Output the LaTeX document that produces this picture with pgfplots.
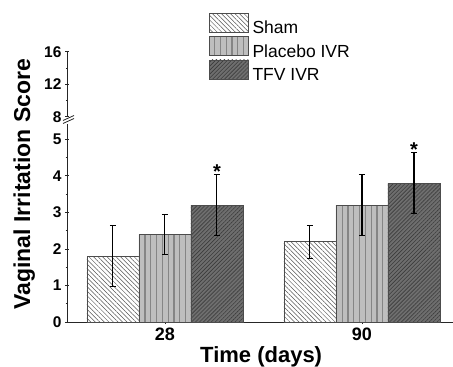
\documentclass[border=0pt]{standalone}
\usepackage{pgfplots}
\pgfplotsset{compat=1.18}
\usepackage{fontspec}
\setmainfont{Liberation Sans}
\usetikzlibrary{patterns.meta}
\definecolor{axc}{HTML}{262626}
\definecolor{shamline}{HTML}{555555}
\definecolor{placfill}{HTML}{BEBEBE}
\definecolor{placline}{HTML}{858585}
\definecolor{tfvfill}{HTML}{6E6E6E}
\definecolor{tfvline}{HTML}{3C3C3C}
\pgfplotsset{
  boxlegend/.style={legend image code/.code={\draw[##1] (0pt,-4pt) rectangle (39pt,15pt);}},
  brokenaxis/.style={
    scale only axis, width=386pt,
    tick align=outside, major tick length=4pt, minor tick length=2.5pt,
    every tick/.style={axc, line width=0.8pt},
    minor y tick num=1,
    y tick label style={font=\bfseries\fontsize{15.5}{15.5}\selectfont},
    /pgf/number format/assume math mode=true,
  },
  myerr/.style={error bars/.cd, y dir=both, y explicit,
    error bar style={black, line width=1.1pt},
    error mark options={rotate=90, black, line width=1.1pt, mark size=3pt}},
}
\begin{document}
\begin{tikzpicture}
\begin{axis}[
  brokenaxis,
  at={(0,0)}, anchor=south west,
  height=198pt,
  xmin=-0.497, xmax=1.462, ymin=0, ymax=5.42,
  axis x line=bottom, axis y line=left,
  axis line style={-, line width=0.8pt, axc},
  xtick={0,1}, xticklabels={28,90},
  ytick={0,1,2,3,4,5},
  x tick label style={font=\bfseries\fontsize{18}{18}\selectfont},
  xlabel={Time (days)}, ylabel={Vaginal Irritation Score},
  xlabel style={font=\bfseries\fontsize{22}{22}\selectfont, at={(axis description cs:0.503,0)}, anchor=base, yshift=-40pt},
  ylabel style={font=\bfseries\fontsize{23}{23}\selectfont, at={(axis description cs:-0.111,0.696)}, anchor=center},
  legend style={at={(axis description cs:0.3679,1.5606)}, anchor=north west, draw=none, fill=none,
    inner sep=0pt, outer sep=0pt, row sep=1pt, column sep=4pt,
    nodes={inner sep=0pt}, font=\fontsize{17.5}{17.5}\selectfont},
  legend cell align=left,
]
\addplot[ybar, bar width=0.264, bar shift=0, fill=white, draw=black!70, line width=0.5pt,
  postaction={pattern={Lines[angle=-45,distance=3.2pt,line width=0.5pt]}, pattern color=shamline},
  boxlegend, myerr]
  coordinates {(-0.264,1.8) +- (0,0.84) (0.736,2.2) +- (0,0.45)};
\addplot[ybar, bar width=0.264, bar shift=0, fill=placfill, draw=black!70, line width=0.5pt,
  postaction={pattern={Lines[angle=90,distance=5.8pt,line width=1.2pt]}, pattern color=placline},
  boxlegend, myerr]
  coordinates {(0,2.4) +- (0,0.55) (1,3.2) +- (0,0.84)};
\addplot[ybar, bar width=0.264, bar shift=0, fill=tfvfill, draw=black!70, line width=0.5pt,
  postaction={pattern={Lines[angle=45,distance=2.8pt,line width=0.6pt]}, pattern color=tfvline},
  boxlegend, myerr]
  coordinates {(0.264,3.2) +- (0,0.84) (1.264,3.8) +- (0,0.84)};
\addplot[draw=none, mark=none, nodes near coords={\textbf{*}},
  every node near coord/.append style={anchor=center, inner sep=0pt, font=\fontsize{20}{20}\selectfont}]
  coordinates {(0.264,4.13) (1.264,4.72)};
\legend{Sham, Placebo IVR, TFV IVR}
\end{axis}
\begin{axis}[
  brokenaxis,
  at={(0,205.3pt)}, anchor=south west,
  height=65pt,
  xmin=0, xmax=1, ymin=8, ymax=16,
  axis x line=none, axis y line=left,
  axis line style={-, line width=0.8pt, axc},
  ytick={8,12,16},
]
\addplot[draw=none] coordinates {(0,8) (1,16)};
\end{axis}
\draw[axc, line width=0.8pt] (-4pt,198.5pt) -- (7pt,203.5pt);
\draw[axc, line width=0.8pt] (-4pt,201.5pt) -- (7pt,206.5pt);
\pgfresetboundingbox
\path (-67pt,-45pt) rectangle (386pt,322pt);
\end{tikzpicture}
\end{document}
